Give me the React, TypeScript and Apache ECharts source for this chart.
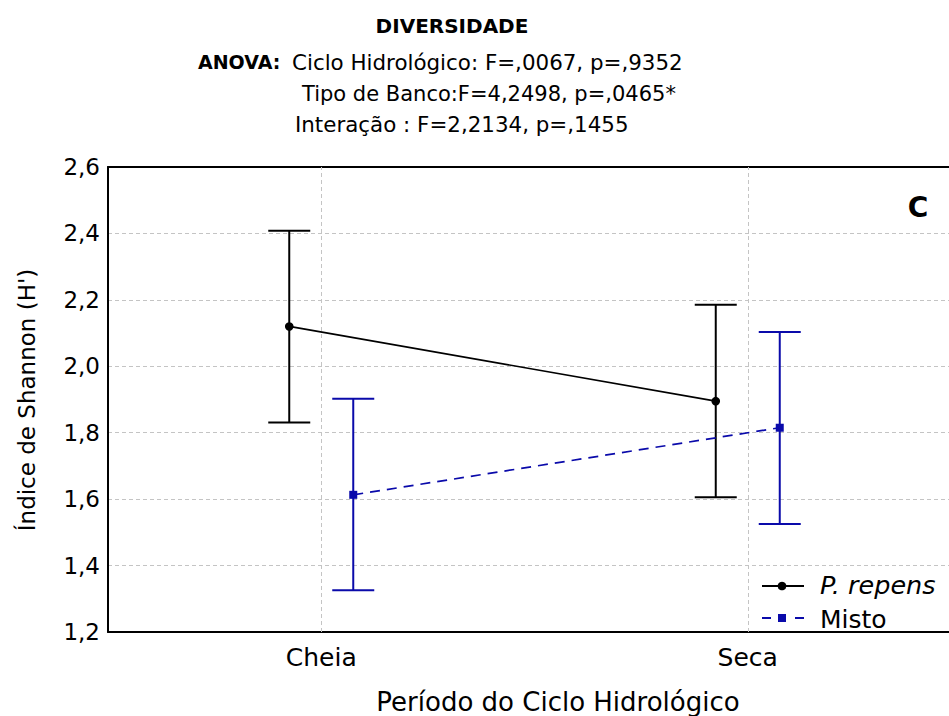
import React, { useEffect, useRef } from 'react';
import * as echarts from 'echarts';

const FONT = "'DejaVu Sans', sans-serif";

const categories = ['Cheia', 'Seca'];

const repensMean = [2.12, 1.895];
const repensLow = [1.831, 1.606];
const repensHigh = [2.408, 2.185];

const mistoMean = [1.613, 1.815];
const mistoLow = [1.326, 1.525];
const mistoHigh = [1.902, 2.103];

const yMin = 1.2;
const yMax = 2.6;
const yInterval = 0.2;

const titleText = 'DIVERSIDADE';
const anovaLabel = 'ANOVA:';
const anovaLines = [
  'Ciclo Hidrológico: F=,0067, p=,9352',
  'Tipo de Banco:F=4,2498, p=,0465*',
  'Interação : F=2,2134, p=,1455',
];
const panelLetter = 'C';
const xName = 'Período do Ciclo Hidrológico';
const yName = "Índice de Shannon (H')";
const legendNames = ['P. repens', 'Misto'];

const BLACK = '#000000';
const BLUE = '#0a0aaa';
const DODGE = 32;
const CAP = 21;

function makeRenderItem(
  means: number[],
  offset: number,
  color: string,
  dashed: boolean,
  marker: 'circle' | 'square'
) {
  return (params: any, api: any) => {
    const i = api.value(0);
    const sh = (p: number[]) => [p[0] + offset, p[1]];
    const c = sh(api.coord([i, api.value(1)]));
    const lo = sh(api.coord([i, api.value(2)]));
    const hi = sh(api.coord([i, api.value(3)]));
    const children: any[] = [];
    if (i < means.length - 1) {
      const n = sh(api.coord([i + 1, means[i + 1]]));
      children.push({
        type: 'line',
        shape: { x1: c[0], y1: c[1], x2: n[0], y2: n[1] },
        style: { stroke: color, lineWidth: 1.7, lineDash: dashed ? [10, 7] : null },
      });
    }
    const ebStyle = { stroke: color, lineWidth: 2 };
    children.push({ type: 'line', shape: { x1: lo[0], y1: lo[1], x2: hi[0], y2: hi[1] }, style: ebStyle });
    children.push({ type: 'line', shape: { x1: hi[0] - CAP, y1: hi[1], x2: hi[0] + CAP, y2: hi[1] }, style: ebStyle });
    children.push({ type: 'line', shape: { x1: lo[0] - CAP, y1: lo[1], x2: lo[0] + CAP, y2: lo[1] }, style: ebStyle });
    if (marker === 'circle') {
      children.push({ type: 'circle', shape: { cx: c[0], cy: c[1], r: 4.3 }, style: { fill: color } });
    } else {
      children.push({ type: 'rect', shape: { x: c[0] - 4, y: c[1] - 4, width: 8, height: 8 }, style: { fill: color } });
    }
    return { type: 'group', children };
  };
}

export default function App() {
  const ref = useRef<HTMLDivElement>(null);

  useEffect(() => {
    if (!ref.current) return;
    const chart = echarts.init(ref.current, null, { renderer: 'svg' });

    const repensData = categories.map((_, i) => [i, repensMean[i], repensLow[i], repensHigh[i]]);
    const mistoData = categories.map((_, i) => [i, mistoMean[i], mistoLow[i], mistoHigh[i]]);

    const txt = (text: string, x: number, y: number, size: number, opts: any = {}) => ({
      type: 'text',
      x,
      y,
      style: {
        text,
        fill: BLACK,
        font: `${opts.italic ? 'italic ' : ''}${opts.bold ? 'bold ' : ''}${size}px ${FONT}`,
        textAlign: opts.align || 'left',
        textVerticalAlign: 'middle',
      },
      rotation: opts.rotation || 0,
    });

    chart.setOption({
      animation: false,
      backgroundColor: '#ffffff',
      grid: { left: 108, top: 167, bottom: 84, right: 19, containLabel: false },
      xAxis: [
        {
          type: 'category',
          data: categories,
          boundaryGap: true,
          position: 'bottom',
          axisLine: { show: true, lineStyle: { color: BLACK, width: 2 } },
          axisTick: { show: true, inside: true, length: 4, alignWithLabel: true, lineStyle: { color: BLACK } },
          axisLabel: { color: BLACK, fontSize: 25, fontFamily: FONT, margin: 13 },
          splitLine: { show: false },
        },
        {
          type: 'category',
          data: categories,
          position: 'top',
          axisLine: { show: true, lineStyle: { color: BLACK, width: 2 } },
          axisTick: { show: false },
          axisLabel: { show: false },
          splitLine: { show: false },
        },
      ],
      yAxis: {
        type: 'value',
        min: yMin,
        max: yMax,
        interval: yInterval,
        axisLine: { show: true, lineStyle: { color: BLACK, width: 2 } },
        axisTick: { show: false },
        axisLabel: {
          color: BLACK,
          fontSize: 23,
          fontFamily: FONT,
          margin: 8,
          formatter: (v: number) => v.toFixed(1).replace('.', ','),
        },
        splitLine: { show: true, lineStyle: { color: '#c4c4c4', type: [4, 3], width: 1 } },
      },
      series: [
        {
          type: 'custom',
          name: legendNames[0],
          xAxisIndex: 0,
          renderItem: makeRenderItem(repensMean, -DODGE, BLACK, false, 'circle'),
          encode: { x: 0, y: [1, 2, 3] },
          data: repensData,
          z: 3,
          markLine: {
            silent: true,
            symbol: ['none', 'none'],
            label: { show: false },
            lineStyle: { color: '#c4c4c4', type: [4, 3], width: 1 },
            data: categories.map((c) => ({ xAxis: c })),
            z: 1,
          },
        },
        {
          type: 'custom',
          name: legendNames[1],
          xAxisIndex: 0,
          renderItem: makeRenderItem(mistoMean, DODGE, BLUE, true, 'square'),
          encode: { x: 0, y: [1, 2, 3] },
          data: mistoData,
          z: 4,
        },
      ],
      graphic: [
        txt(titleText, 452, 26, 20, { bold: true, align: 'center' }),
        txt(anovaLabel, 198, 62, 19, { bold: true }),
        txt(anovaLines[0], 292, 62, 21.4),
        txt(anovaLines[1], 302, 94, 21),
        txt(anovaLines[2], 295, 124, 21.4),
        txt(panelLetter, 918, 207, 28, { bold: true, align: 'center' }),
        txt(xName, 558, 702, 26, { align: 'center' }),
        txt(yName, 27, 400, 23, { align: 'center', rotation: Math.PI / 2 }),
        // legend
        { type: 'line', shape: { x1: 762, y1: 586, x2: 804, y2: 586 }, style: { stroke: BLACK, lineWidth: 2 } },
        { type: 'circle', shape: { cx: 782, cy: 586, r: 4.3 }, style: { fill: BLACK } },
        txt(legendNames[0], 820, 585, 25.5, { italic: true }),
        { type: 'line', shape: { x1: 762, y1: 618, x2: 771, y2: 618 }, style: { stroke: BLUE, lineWidth: 2 } },
        { type: 'line', shape: { x1: 795, y1: 618, x2: 804, y2: 618 }, style: { stroke: BLUE, lineWidth: 2 } },
        { type: 'rect', shape: { x: 778, y: 614, width: 8, height: 8 }, style: { fill: BLUE } },
        txt(legendNames[1], 820, 619, 25),
      ],
    });

    return () => chart.dispose();
  }, []);

  return (
    <div style={{ position: 'fixed', left: 0, top: 0, width: 949, height: 716, overflow: 'hidden', background: '#fff' }}>
      <div ref={ref} style={{ width: 980, height: 716 }} />
    </div>
  );
}
